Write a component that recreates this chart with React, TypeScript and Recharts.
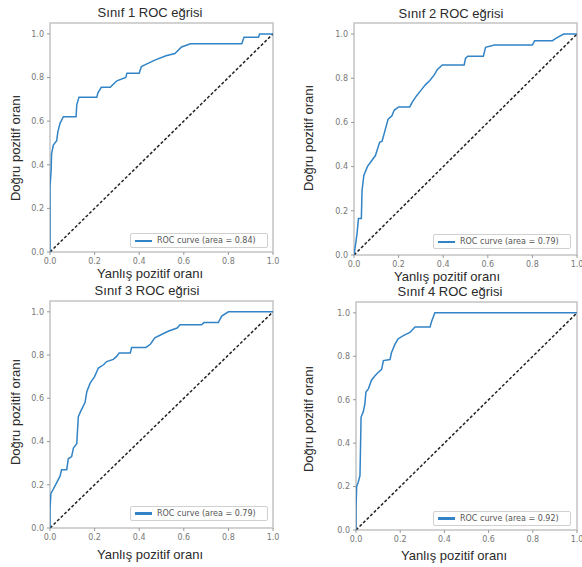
import React from 'react';
import { LineChart, Line, XAxis, YAxis, ReferenceArea, Legend } from 'recharts';

// ROC points (false positive rate / true positive rate)
const fpr1 = [0, 0, 0.005, 0.007, 0.015, 0.03, 0.035, 0.045, 0.06, 0.117, 0.12, 0.13, 0.21, 0.215, 0.23, 0.27, 0.285, 0.3, 0.34, 0.345, 0.4, 0.41, 0.43, 0.47, 0.52, 0.56, 0.59, 0.63, 0.86, 0.87, 0.935, 0.94, 1];
const tpr1 = [0, 0.3, 0.37, 0.45, 0.49, 0.51, 0.55, 0.59, 0.62, 0.62, 0.675, 0.71, 0.71, 0.73, 0.755, 0.755, 0.77, 0.785, 0.8, 0.82, 0.82, 0.85, 0.86, 0.88, 0.9, 0.91, 0.94, 0.955, 0.955, 0.985, 0.985, 1, 1];

const fpr2 = [0, 0.006, 0.014, 0.02, 0.033, 0.036, 0.044, 0.06, 0.074, 0.096, 0.115, 0.126, 0.153, 0.17, 0.18, 0.2, 0.25, 0.26, 0.28, 0.3, 0.32, 0.34, 0.36, 0.374, 0.396, 0.494, 0.5, 0.51, 0.58, 0.59, 0.63, 0.8, 0.81, 0.89, 0.905, 0.94, 1];
const tpr2 = [0, 0.04, 0.1, 0.165, 0.165, 0.29, 0.36, 0.4, 0.42, 0.45, 0.51, 0.515, 0.615, 0.63, 0.655, 0.67, 0.67, 0.69, 0.72, 0.745, 0.77, 0.79, 0.815, 0.84, 0.86, 0.86, 0.89, 0.9, 0.9, 0.94, 0.95, 0.95, 0.97, 0.97, 0.98, 1, 1];

const fpr3 = [0, 0, 0.004, 0.01, 0.02, 0.03, 0.045, 0.052, 0.075, 0.082, 0.097, 0.105, 0.12, 0.127, 0.14, 0.157, 0.165, 0.18, 0.2, 0.217, 0.24, 0.254, 0.284, 0.3, 0.31, 0.36, 0.366, 0.43, 0.45, 0.47, 0.5, 0.53, 0.57, 0.583, 0.68, 0.69, 0.755, 0.77, 0.8, 1];
const tpr3 = [0, 0.087, 0.16, 0.17, 0.19, 0.21, 0.24, 0.27, 0.27, 0.32, 0.33, 0.37, 0.39, 0.515, 0.545, 0.58, 0.63, 0.67, 0.7, 0.74, 0.755, 0.77, 0.78, 0.795, 0.81, 0.81, 0.835, 0.835, 0.85, 0.88, 0.895, 0.91, 0.925, 0.94, 0.94, 0.95, 0.95, 0.98, 1, 1];

const fpr4 = [0, 0, 0.003, 0.01, 0.018, 0.023, 0.033, 0.04, 0.045, 0.056, 0.07, 0.086, 0.1, 0.116, 0.124, 0.154, 0.16, 0.176, 0.19, 0.214, 0.244, 0.267, 0.335, 0.342, 0.357, 1];
const tpr4 = [0, 0.094, 0.2, 0.22, 0.25, 0.52, 0.545, 0.58, 0.635, 0.65, 0.69, 0.71, 0.725, 0.74, 0.78, 0.785, 0.815, 0.855, 0.88, 0.895, 0.91, 0.935, 0.935, 0.96, 1, 1];

const areas = ['0.84', '0.79', '0.79', '0.92'];
const yTicks = [0, 0.2, 0.4, 0.6, 0.8, 1.0];
const xTicks = [0, 0.2, 0.4, 0.6, 0.8, 1.0];
const chance = [{ x: 0, y: 0 }, { x: 1, y: 1 }];

const BLUE = '#3284c6';
const TICK = { fill: '#777', fontSize: 8, fontFamily: 'DejaVu Sans' };
const TEXT_FONT = '"Liberation Sans", Arial, sans-serif';

const zip = (xs: number[], ys: number[]) => xs.map((x, i) => ({ x, y: ys[i] }));

// chart box on the page + margins so the plot rectangle lands where it does in the picture
const panels = [
  { n: 1, data: zip(fpr1, tpr1), left: 0, top: 0, w: 290, h: 280, margin: { top: 23, right: 17, bottom: 8, left: 20 },
    title: [150, 12], yLab: [15, 148], xLab: [150, 273], legend: [130, 233], legLine: 2 },
  { n: 2, data: zip(fpr2, tpr2), left: 290, top: 0, w: 292, h: 280, margin: { top: 23, right: 5, bottom: 5, left: 34 },
    title: [451, 13], yLab: [308, 138], xLab: [447, 276], legend: [433, 234], legLine: 2 },
  { n: 3, data: zip(fpr3, tpr3), left: 0, top: 280, w: 290, h: 287, margin: { top: 21, right: 17, bottom: 19, left: 20 },
    title: [147, 290], yLab: [15, 412], xLab: [150, 554], legend: [130, 506], legLine: 2.5 },
  { n: 4, data: zip(fpr4, tpr4), left: 290, top: 280, w: 292, h: 287, margin: { top: 22, right: 5, bottom: 17, left: 36 },
    title: [450, 291], yLab: [308, 419], xLab: [454, 555], legend: [433, 511], legLine: 2.5 },
];

function RocLegend({ area, lw }: { area: string; lw: number }) {
  return (
    <div
      style={{
        display: 'flex',
        alignItems: 'center',
        width: 138,
        height: 15,
        boxSizing: 'border-box',
        border: '1px solid #d0d0d0',
        borderRadius: 2,
        background: '#fff',
        padding: '0 4px',
        fontFamily: 'DejaVu Sans',
        fontSize: 8,
        color: '#555',
        whiteSpace: 'nowrap',
      }}
    >
      <div style={{ width: 17, height: lw, background: BLUE, marginRight: 5 }} />
      ROC curve (area = {area})
    </div>
  );
}

function Text({ x, y, children, rotate }: { x: number; y: number; children: React.ReactNode; rotate?: boolean }) {
  return (
    <div
      style={{
        position: 'absolute',
        left: x,
        top: y,
        transform: `translate(-50%, -50%)${rotate ? ' rotate(-90deg)' : ''}`,
        fontFamily: TEXT_FONT,
        fontSize: 13,
        color: '#2a2a2a',
        whiteSpace: 'nowrap',
        lineHeight: 1,
      }}
    >
      {children}
    </div>
  );
}

export default function App() {
  return (
    <div style={{ position: 'absolute', left: 0, top: 0, width: 582, height: 567, background: '#fff', overflow: 'hidden' }}>
      {panels.map((p, i) => (
        <div key={p.n} style={{ position: 'absolute', left: p.left, top: p.top }}>
          <LineChart width={p.w} height={p.h} margin={p.margin}>
            <XAxis
              type="number"
              dataKey="x"
              domain={[0, 1]}
              ticks={xTicks}
              tickFormatter={(v) => v.toFixed(1)}
              tick={TICK}
              tickSize={3}
              tickMargin={3}
              tickLine={{ stroke: '#999' }}
              axisLine={false}
              height={20}
              allowDataOverflow
            />
            <YAxis
              type="number"
              dataKey="y"
              domain={[0, 1.05]}
              ticks={yTicks}
              tickFormatter={(v) => v.toFixed(1)}
              tick={TICK}
              tickSize={3}
              tickMargin={3}
              tickLine={{ stroke: '#999' }}
              axisLine={false}
              width={30}
              allowDataOverflow
            />
            <ReferenceArea x1={0} x2={1} y1={0} y2={1.05} fill="none" stroke="#c4c4c4" strokeWidth={1.5} ifOverflow="visible" />
            <Line
              data={chance}
              dataKey="y"
              type="linear"
              stroke="#222"
              strokeWidth={1.5}
              strokeDasharray="3 2"
              dot={false}
              isAnimationActive={false}
              legendType="none"
            />
            <Line
              data={p.data}
              dataKey="y"
              type="linear"
              stroke={BLUE}
              strokeWidth={1.5}
              dot={false}
              isAnimationActive={false}
            />
            {/* verticalAlign middle keeps the legend from eating plot space */}
            <Legend
              layout="horizontal"
              verticalAlign="middle"
              align="center"
              content={() => <RocLegend area={areas[i]} lw={p.legLine} />}
              wrapperStyle={{ position: 'absolute', left: p.legend[0] - p.left, top: p.legend[1] - p.top, width: 'auto', height: 'auto' }}
            />
          </LineChart>
        </div>
      ))}
      {panels.map((p) => (
        <React.Fragment key={'t' + p.n}>
          <Text x={p.title[0]} y={p.title[1]}>Sınıf {p.n} ROC eğrisi</Text>
          <Text x={p.yLab[0]} y={p.yLab[1]} rotate>Doğru pozitif oranı</Text>
          <Text x={p.xLab[0]} y={p.xLab[1]}>Yanlış pozitif oranı</Text>
        </React.Fragment>
      ))}
    </div>
  );
}
